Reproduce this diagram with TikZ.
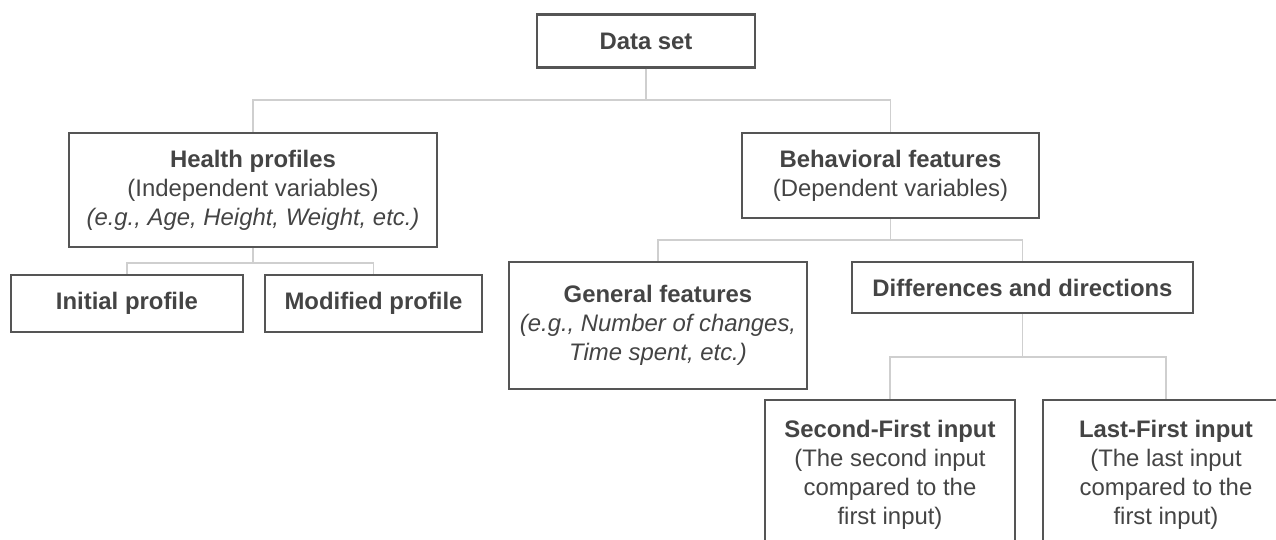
\documentclass[tikz,border=0pt]{standalone}
\usepackage{fontspec}
\setmainfont{Liberation Sans}
\usetikzlibrary{positioning}
\definecolor{boxline}{HTML}{555555}
\definecolor{linkline}{HTML}{CFCFCF}
\definecolor{boxtext}{HTML}{444444}
\tikzset{
  box/.style = {
    draw=boxline, line width=1.2pt, text=boxtext, align=center,
    inner sep=0pt, font=\fontsize{13.6}{16.6}\selectfont
  },
  link/.style = {
    draw=linkline, line width=1.1pt
  },
}

\begin{document}
\begin{tikzpicture}[x=0.02cm, y=-0.02cm]
  \useasboundingbox (0,0) rectangle (1276,539);
  \clip (0,0) rectangle (1276,539);

  % top level
  \node[box, minimum width=4.36cm, minimum height=1.06cm] (data) at (646,41)
    {\textbf{Data set}};

  % left branch
  \node[box, minimum width=7.36cm, minimum height=2.28cm] (health) at (253,190)
    {\textbf{Health profiles}\\(Independent variables)\\\textit{(e.g., Age, Height, Weight, etc.)}};
  \node[box, minimum width=4.64cm, minimum height=1.14cm] (initial) at (127,303.5)
    {\textbf{Initial profile}};
  \node[box, minimum width=4.34cm, minimum height=1.14cm] (modified) at (373.5,303.5)
    {\textbf{Modified profile}};

  % right branch
  \node[box, minimum width=5.94cm, minimum height=1.70cm] (behav) at (890.5,175.5)
    {\textbf{Behavioral features}\\(Dependent variables)};
  \node[box, minimum width=5.96cm, minimum height=2.54cm] (general) at (658,325.5)
    {\textbf{General features}\\\textit{(e.g., Number of changes,}\\\textit{Time spent, etc.)}};
  \node[box, minimum width=6.82cm, minimum height=1.02cm] (diff) at (1022.5,287.5)
    {\textbf{Differences and directions}};
  \node[box, minimum width=5.00cm, minimum height=3.00cm] (second) at (890,475)
    {\textbf{Second-First input}\\(The second input\\compared to the\\first input)};
  \node[box, minimum width=4.92cm, minimum height=3.00cm] (last) at (1166,475)
    {\textbf{Last-First input}\\(The last input\\compared to the\\first input)};

  % connectors
  \coordinate (top split) at (646,100);
  \coordinate (health split) at (253,263);
  \coordinate (behav split) at (890.5,240);
  \coordinate (diff split) at (1022.5,357);

  \draw[link] (data.south) -- (top split);
  \draw[link] (top split) -| (health.north);
  \draw[link] (top split) -| (behav.north);

  \draw[link] (health.south) -- (health split);
  \draw[link] (health split) -| (initial.north);
  \draw[link] (health split) -| (modified.north);

  \draw[link] (behav.south) -- (behav split);
  \draw[link] (behav split) -| (general.north);
  \draw[link] (behav split) -| (diff.north);

  \draw[link] (diff.south) -- (diff split);
  \draw[link] (diff split) -| (second.north);
  \draw[link] (diff split) -| (last.north);
\end{tikzpicture}
\end{document}
